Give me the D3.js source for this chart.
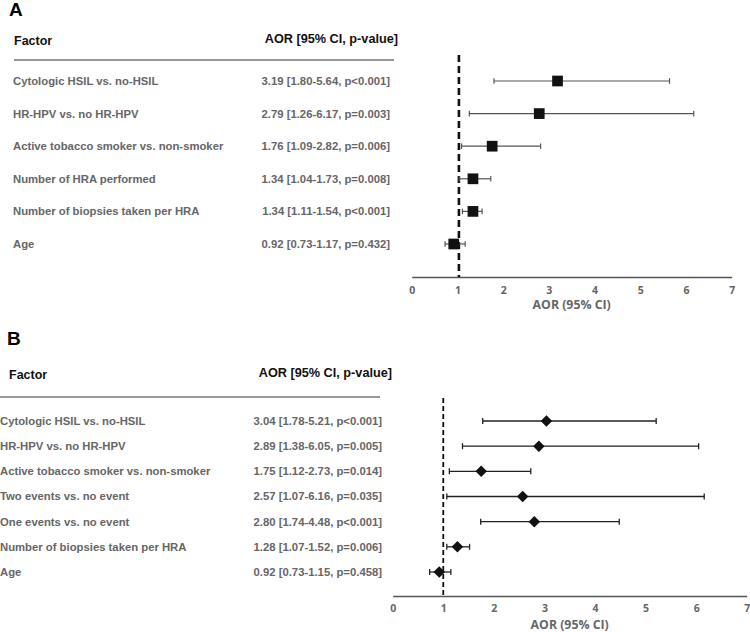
<!DOCTYPE html>
<html><head><meta charset="utf-8">
<script src="https://cdn.jsdelivr.net/npm/d3@7"></script>
<style>body{margin:0;background:#fff}svg{display:block}</style>
</head><body>
<svg id="c" width="750" height="632"></svg>
<script>
// ---- Data ----
const labelsA = ["Cytologic HSIL vs. no-HSIL","HR-HPV vs. no HR-HPV","Active tobacco smoker  vs. non-smoker","Number of HRA performed","Number of biopsies taken per HRA","Age"];
const aorA = [3.19, 2.79, 1.76, 1.34, 1.34, 0.92];
const lowA = [1.80, 1.26, 1.09, 1.04, 1.11, 0.73];
const highA = [5.64, 6.17, 2.82, 1.73, 1.54, 1.17];
const textA = ["3.19 [1.80-5.64, p<0.001]","2.79 [1.26-6.17, p=0.003]","1.76 [1.09-2.82, p=0.006]","1.34 [1.04-1.73, p=0.008]","1.34 [1.11-1.54, p<0.001]","0.92 [0.73-1.17, p=0.432]"];

const labelsB = ["Cytologic HSIL vs. no-HSIL","HR-HPV vs. no HR-HPV","Active tobacco smoker vs. non-smoker","Two events vs. no event","One events vs. no event","Number of biopsies taken per HRA","Age"];
const aorB = [3.04, 2.89, 1.75, 2.57, 2.80, 1.28, 0.92];
const lowB = [1.78, 1.38, 1.12, 1.07, 1.74, 1.07, 0.73];
const highB = [5.21, 6.05, 2.73, 6.16, 4.48, 1.52, 1.15];
const textB = ["3.04 [1.78-5.21, p<0.001]","2.89 [1.38-6.05, p=0.005]","1.75 [1.12-2.73, p=0.014]","2.57 [1.07-6.16, p=0.035]","2.80 [1.74-4.48, p<0.001]","1.28 [1.07-1.52, p=0.006]","0.92 [0.73-1.15, p=0.458]"];

const xTicks = [0,1,2,3,4,5,6,7];
const refValue = 1;
const headerFactor = "Factor";
const headerAOR = "AOR [95% CI, p-value]";
const axisTitle = "AOR (95% CI)";

// ---- Drawing ----
const svg = d3.select("#c");
const sans = "'Liberation Sans', Arial, sans-serif";
const tickFont = "'Open Sans', 'Lato', sans-serif";

function panel(cfg){
  const g = svg.append("g");
  const x = d3.scaleLinear().domain([0,7]).range(cfg.xr);
  const y = d3.scalePoint().domain(cfg.labels).range(cfg.yr);
  g.append("text").attr("x",cfg.letterX).attr("y",cfg.letterY).text(cfg.letter)
    .attr("font-family",sans).attr("font-weight","bold").attr("font-size",19).attr("fill","#000");
  g.append("text").attr("x",cfg.factorX).attr("y",cfg.headY).text(headerFactor)
    .attr("font-family",sans).attr("font-weight","bold").attr("font-size",12.5).attr("fill","#111");
  g.append("text").attr("x",cfg.aorHeadX).attr("y",cfg.headY-2).attr("text-anchor","end").text(headerAOR)
    .attr("font-family",sans).attr("font-weight","bold").attr("font-size",12.7).attr("fill","#111");
  g.append("line").attr("x1",cfg.ruleX[0]).attr("x2",cfg.ruleX[1]).attr("y1",cfg.ruleY).attr("y2",cfg.ruleY)
    .attr("stroke","#333").attr("stroke-width",1.2);
  g.selectAll("text.lab").data(cfg.labels).join("text").attr("class","lab")
    .attr("x",cfg.labelX).attr("y",d=>y(d)).attr("dy","0.35em").text(d=>d)
    .attr("font-family",sans).attr("font-weight","bold").attr("font-size",11.3).attr("fill","#666");
  g.selectAll("text.val").data(cfg.texts).join("text").attr("class","val")
    .attr("x",cfg.valX).attr("y",(d,i)=>y(cfg.labels[i])).attr("dy","0.35em").attr("text-anchor","end").text(d=>d)
    .attr("font-family",sans).attr("font-weight","bold").attr("font-size",11.3).attr("fill","#666");
  const ax = g.append("g").attr("transform",`translate(0,${cfg.axisY})`)
    .call(d3.axisBottom(x).tickValues(xTicks).tickSize(0).tickPadding(cfg.tickPad).tickFormat(d3.format("d")));
  ax.select(".domain").attr("stroke","#555").attr("stroke-width",1.3);
  ax.selectAll("text").attr("font-family",tickFont).attr("font-weight","bold").attr("font-size",10.5).attr("fill","#666");
  g.append("text").attr("x",(cfg.xr[0]+cfg.xr[1])/2).attr("y",cfg.titleY).attr("text-anchor","middle").text(axisTitle)
    .attr("font-family",tickFont).attr("font-weight","bold").attr("font-size",12.3).attr("fill","#666");
  g.append("line").attr("x1",x(refValue)+cfg.refOff).attr("x2",x(refValue)+cfg.refOff).attr("y1",cfg.refTop).attr("y2",cfg.axisY)
    .attr("stroke","#111").attr("stroke-width",cfg.refW).attr("stroke-dasharray",cfg.refDash);
  const rows = cfg.labels.map((l,i)=>({l, v:cfg.aor[i], lo:cfg.low[i], hi:cfg.high[i]}));
  const eb = g.selectAll("g.eb").data(rows).join("g").attr("class","eb");
  eb.append("line").attr("x1",d=>x(d.lo)).attr("x2",d=>x(d.hi)).attr("y1",d=>y(d.l)).attr("y2",d=>y(d.l))
    .attr("stroke",cfg.barColor).attr("stroke-width",cfg.barW);
  eb.append("line").attr("x1",d=>x(d.lo)).attr("x2",d=>x(d.lo)).attr("y1",d=>y(d.l)-cfg.cap).attr("y2",d=>y(d.l)+cfg.cap)
    .attr("stroke",cfg.barColor).attr("stroke-width",cfg.barW);
  eb.append("line").attr("x1",d=>x(d.hi)).attr("x2",d=>x(d.hi)).attr("y1",d=>y(d.l)-cfg.cap).attr("y2",d=>y(d.l)+cfg.cap)
    .attr("stroke",cfg.barColor).attr("stroke-width",cfg.barW);
  eb.append("path").attr("transform",d=>`translate(${x(d.v)},${y(d.l)}) rotate(${cfg.rot})`)
    .attr("d",d3.symbol().type(d3.symbolSquare).size(cfg.symSize)).attr("fill","#111");
}

panel({letter:"A", letterX:9, letterY:16, factorX:14, headY:45, aorHeadX:398, ruleX:[14,394], ruleY:60,
  labels:labelsA, texts:textA, aor:aorA, low:lowA, high:highA,
  xr:[411.7,731.7], yr:[81,244], labelX:13, valX:390,
  axisY:277, tickPad:10, titleY:309, refTop:55, refOff:1.5, refW:2.6, refDash:"7,4",
  barColor:"#555", barW:1.2, cap:2.8, rot:0, symSize:115});

panel({letter:"B", letterX:7, letterY:345, factorX:9, headY:379, aorHeadX:392, ruleX:[0,380], ruleY:397,
  labels:labelsB, texts:textB, aor:aorB, low:lowB, high:highB,
  xr:[392.7,746.7], yr:[421,572], labelX:0, valX:382,
  axisY:596, tickPad:9, titleY:629, refTop:398, refOff:0, refW:1.8, refDash:"5,3",
  barColor:"#222", barW:1.3, cap:3, rot:45, symSize:66});
</script>
</body></html>
